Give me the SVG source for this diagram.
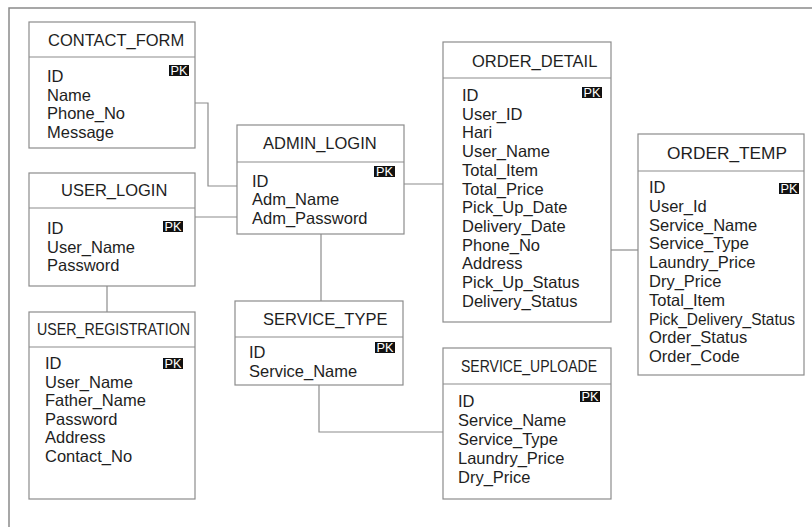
<svg xmlns="http://www.w3.org/2000/svg" width="812" height="527" viewBox="0 0 812 527">
<style>
.box{fill:#fff;stroke:#8c8c8c;stroke-width:1.2}
.sep{stroke:#8c8c8c;stroke-width:1.2}
.t{font-family:"Liberation Sans",Arial,sans-serif;font-size:16.5px;fill:#1e1e1e}
.pk{fill:#111}
.pkt{font-family:"Liberation Sans",Arial,sans-serif;font-size:12px;fill:#fff;text-anchor:middle}
.con{fill:none;stroke:#8c8c8c;stroke-width:1.2}
</style>
<rect width="812" height="527" fill="#fff"/>
<path d="M9,527 V8 H812" fill="none" stroke="#8a8a8a" stroke-width="1.5"/>
<g id="connectors">
<path class="con" d="M195,103 H208 V186 H237"/>
<path class="con" d="M195,217 H237"/>
<path class="con" d="M404,184 H443"/>
<path class="con" d="M321,234 V301"/>
<path class="con" d="M107,286 V312"/>
<path class="con" d="M319,385 V432 H443"/>
<path class="con" d="M611,250 H638"/>
</g>
<g id="contact_form">
<rect class="box" x="29" y="22" width="166" height="126"/>
<line class="sep" x1="29" y1="57" x2="195" y2="57"/>
<text class="t" x="48" y="46">CONTACT_FORM</text>
<rect class="pk" x="169" y="65" width="20" height="11"/>
<text class="pkt" x="179" y="75.2" textLength="17" lengthAdjust="spacingAndGlyphs">PK</text>
<text class="t"><tspan x="47" y="82">ID</tspan><tspan x="47" y="100.7">Name</tspan><tspan x="47" y="119.4">Phone_No</tspan><tspan x="47" y="138">Message</tspan></text>
</g>
<g id="user_login">
<rect class="box" x="29" y="173" width="166" height="113"/>
<line class="sep" x1="29" y1="208" x2="195" y2="208"/>
<text class="t" x="61" y="196">USER_LOGIN</text>
<rect class="pk" x="163" y="221" width="20" height="11"/>
<text class="pkt" x="173" y="231.2" textLength="17" lengthAdjust="spacingAndGlyphs">PK</text>
<text class="t"><tspan x="47" y="234">ID</tspan><tspan x="47" y="252.7">User_Name</tspan><tspan x="47" y="271.4">Password</tspan></text>
</g>
<g id="user_registration">
<rect class="box" x="29" y="312" width="166" height="187"/>
<line class="sep" x1="29" y1="347" x2="195" y2="347"/>
<text class="t" x="37" y="335" textLength="153" lengthAdjust="spacingAndGlyphs">USER_REGISTRATION</text>
<rect class="pk" x="163" y="358" width="20" height="11"/>
<text class="pkt" x="173" y="368.2" textLength="17" lengthAdjust="spacingAndGlyphs">PK</text>
<text class="t"><tspan x="45" y="369">ID</tspan><tspan x="45" y="387.6">User_Name</tspan><tspan x="45" y="406.2">Father_Name</tspan><tspan x="45" y="424.8">Password</tspan><tspan x="45" y="443.4">Address</tspan><tspan x="45" y="462">Contact_No</tspan></text>
</g>
<g id="admin_login">
<rect class="box" x="237" y="125" width="167" height="109"/>
<line class="sep" x1="237" y1="162" x2="404" y2="162"/>
<text class="t" x="263" y="149">ADMIN_LOGIN</text>
<rect class="pk" x="374" y="166" width="21" height="11"/>
<text class="pkt" x="384.5" y="176.2" textLength="17" lengthAdjust="spacingAndGlyphs">PK</text>
<text class="t"><tspan x="252" y="187">ID</tspan><tspan x="252" y="205.3">Adm_Name</tspan><tspan x="252" y="223.6">Adm_Password</tspan></text>
</g>
<g id="service_type">
<rect class="box" x="235" y="301" width="168" height="84"/>
<line class="sep" x1="235" y1="337" x2="403" y2="337"/>
<text class="t" x="263" y="325">SERVICE_TYPE</text>
<rect class="pk" x="375" y="342" width="20" height="11"/>
<text class="pkt" x="385" y="352.2" textLength="17" lengthAdjust="spacingAndGlyphs">PK</text>
<text class="t"><tspan x="249" y="358">ID</tspan><tspan x="249" y="377">Service_Name</tspan></text>
</g>
<g id="service_uploade">
<rect class="box" x="443" y="348" width="168" height="151"/>
<line class="sep" x1="443" y1="384" x2="611" y2="384"/>
<text class="t" x="461" y="372" textLength="136" lengthAdjust="spacingAndGlyphs">SERVICE_UPLOADE</text>
<rect class="pk" x="580" y="391" width="20" height="11"/>
<text class="pkt" x="590" y="401.2" textLength="17" lengthAdjust="spacingAndGlyphs">PK</text>
<text class="t"><tspan x="458" y="407">ID</tspan><tspan x="458" y="426">Service_Name</tspan><tspan x="458" y="445">Service_Type</tspan><tspan x="458" y="464">Laundry_Price</tspan><tspan x="458" y="483">Dry_Price</tspan></text>
</g>
<g id="order_detail">
<rect class="box" x="443" y="42" width="168" height="280"/>
<line class="sep" x1="443" y1="78" x2="611" y2="78"/>
<text class="t" x="472" y="67">ORDER_DETAIL</text>
<rect class="pk" x="582" y="87" width="20" height="11"/>
<text class="pkt" x="592" y="97.2" textLength="17" lengthAdjust="spacingAndGlyphs">PK</text>
<text class="t"><tspan x="462" y="101">ID</tspan><tspan x="462" y="119.7">User_ID</tspan><tspan x="462" y="138.4">Hari</tspan><tspan x="462" y="157.1">User_Name</tspan><tspan x="462" y="175.8">Total_Item</tspan><tspan x="462" y="194.5">Total_Price</tspan><tspan x="462" y="213.2">Pick_Up_Date</tspan><tspan x="462" y="231.9">Delivery_Date</tspan><tspan x="462" y="250.6">Phone_No</tspan><tspan x="462" y="269.3">Address</tspan><tspan x="462" y="288">Pick_Up_Status</tspan><tspan x="462" y="306.7">Delivery_Status</tspan></text>
</g>
<g id="order_temp">
<rect class="box" x="638" y="134" width="166" height="241"/>
<line class="sep" x1="638" y1="171" x2="804" y2="171"/>
<text class="t" x="667" y="159" textLength="120" lengthAdjust="spacingAndGlyphs">ORDER_TEMP</text>
<rect class="pk" x="779" y="183" width="20" height="11"/>
<text class="pkt" x="789" y="193.2" textLength="17" lengthAdjust="spacingAndGlyphs">PK</text>
<text class="t"><tspan x="649" y="193">ID</tspan><tspan x="649" y="211.8">User_Id</tspan><tspan x="649" y="230.6">Service_Name</tspan><tspan x="649" y="249.4">Service_Type</tspan><tspan x="649" y="268.2">Laundry_Price</tspan><tspan x="649" y="287">Dry_Price</tspan><tspan x="649" y="305.8">Total_Item</tspan><tspan x="649" y="324.6" textLength="146" lengthAdjust="spacingAndGlyphs">Pick_Delivery_Status</tspan><tspan x="649" y="343.4">Order_Status</tspan><tspan x="649" y="362.2">Order_Code</tspan></text>
</g>
</svg>
